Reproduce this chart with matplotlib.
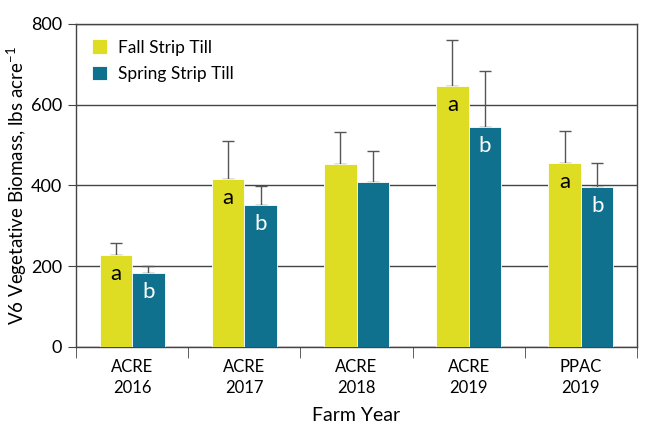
import matplotlib.pyplot as plt
import numpy as np

# dados
anos = ["ACRE\n2016", "ACRE\n2017", "ACRE\n2018", "ACRE\n2019", "PPAC\n2019"]
outono = [228, 416, 452, 646, 455]
outono_erro = [30, 93, 80, 113, 79]
primavera = [182, 351, 409, 545, 395]
primavera_erro = [19, 47, 77, 137, 61]
letras_outono = ["a", "a", "", "a", "a"]
letras_primavera = ["b", "b", "", "b", "b"]

cor_outono = "#DEDC23"
cor_primavera = "#0F718E"

plt.rcParams['font.family'] = ['Lato', 'DejaVu Sans']
plt.rcParams['mathtext.fontset'] = 'custom'
plt.rcParams['mathtext.rm'] = 'Lato'

fig = plt.figure(figsize=(6.5, 4.33), dpi=100)
ax = fig.add_axes([0.117, 0.199, 0.863, 0.746])

x = np.arange(len(anos))
w = 0.29

ax.bar(x - w/2, outono, w, color=cor_outono, edgecolor="white", linewidth=0.6,
       label="Fall Strip Till", zorder=3)
ax.bar(x + w/2, primavera, w, color=cor_primavera, edgecolor="white", linewidth=0.6,
       label="Spring Strip Till", zorder=3)

# barras de erro so para cima
ax.errorbar(x - w/2, outono, yerr=[np.zeros(len(x)), outono_erro], fmt="none",
            ecolor="#555555", elinewidth=1, capsize=4, capthick=1, zorder=2)
ax.errorbar(x + w/2, primavera, yerr=[np.zeros(len(x)), primavera_erro], fmt="none",
            ecolor="#555555", elinewidth=1, capsize=4, capthick=1, zorder=2)

for i in range(len(x)):
    if letras_outono[i]:
        ax.text(x[i] - w/2, outono[i] - 22, letras_outono[i], ha="center", va="top",
                fontsize=16, color="black", zorder=4)
    if letras_primavera[i]:
        ax.text(x[i] + w/2, primavera[i] - 22, letras_primavera[i], ha="center", va="top",
                fontsize=16, color="white", zorder=4)

ax.set_xlim(-0.5, len(anos) - 0.5)
ax.set_ylim(0, 800)
ax.set_yticks([0, 200, 400, 600, 800])
ax.yaxis.grid(True, color="#444444", linewidth=1)
ax.set_axisbelow(True)

ax.set_xticks(x)
ax.set_xticklabels(anos, fontsize=12, linespacing=1.35)
ax.set_xticks(np.arange(len(anos) + 1) - 0.5, minor=True)
ax.tick_params(axis="x", which="major", length=0, pad=9)
ax.tick_params(axis="x", which="minor", length=8, color="#444444")
ax.tick_params(axis="y", labelsize=13, length=6, color="#444444", pad=4)

for s in ["left", "bottom", "right", "top"]:
    ax.spines[s].set_color("#444444")
    ax.spines[s].set_linewidth(1)

ax.set_xlabel("Farm Year", fontsize=14, labelpad=8)
ax.set_ylabel("V6 Vegetative Biomass, lbs acre$^{\\mathrm{-1}}$", fontsize=13.5)
ax.yaxis.set_label_coords(-0.083, 0.5)

ax.legend(loc="upper left", frameon=False, fontsize=12.5, handlelength=0.9,
          handleheight=0.9, borderaxespad=0.5, labelspacing=0.6, handletextpad=0.6)

fig.savefig("out.png", dpi=100)
